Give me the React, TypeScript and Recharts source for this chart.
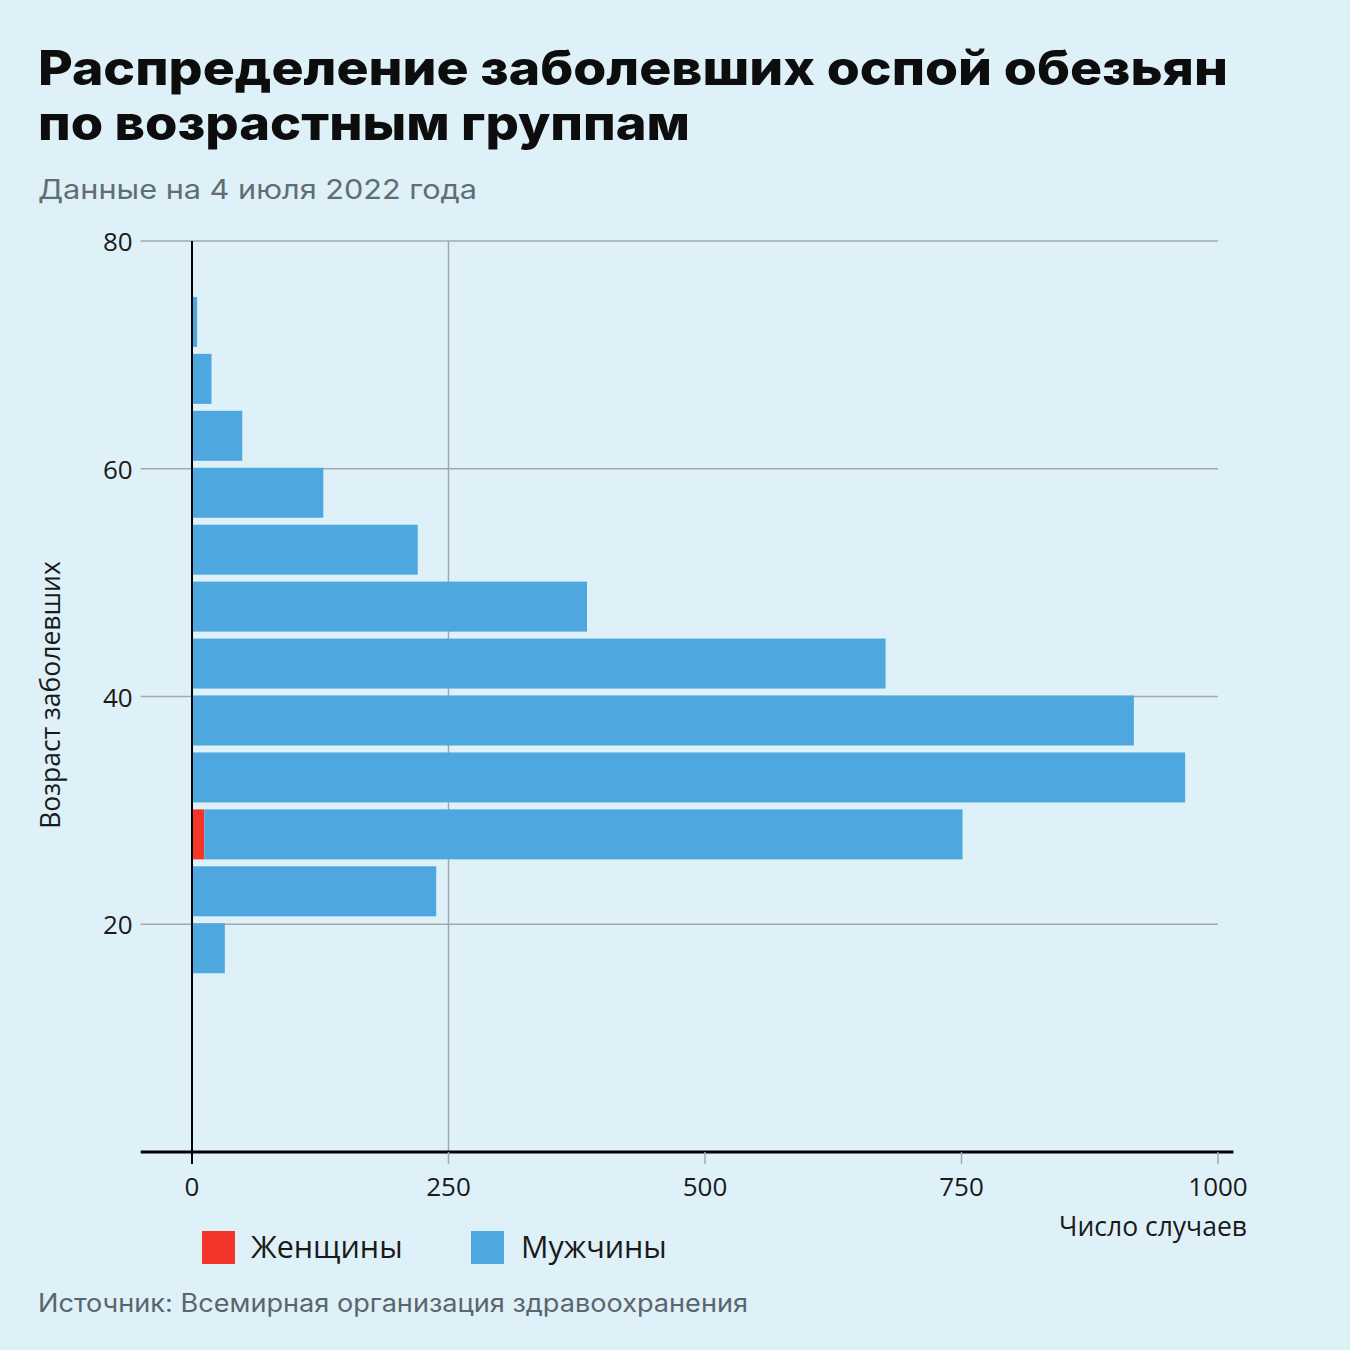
import React from 'react';
import { BarChart, ComposedChart, Bar, XAxis, YAxis, ReferenceLine } from 'recharts';

const ageBins = ['75–80', '70–75', '65–70', '60–65', '55–60', '50–55', '45–50', '40–45', '35–40', '30–35', '25–30', '20–25', '15–20', '10–15', '5–10', '0–5'];
const womenCases = [0, 0, 0, 0, 0, 0, 0, 0, 0, 0, 12, 0, 0, 0, 0, 0];
const menCases = [0, 5, 19, 49, 128, 220, 385, 676, 918, 968, 739, 238, 32, 0, 0, 0];
const xTicks = [0, 250, 500, 750, 1000];
const yTicks = [20, 40, 60, 80];
const verticalGrid = [250];

const seriesNames = { women: 'Женщины', men: 'Мужчины' };
const COLORS = { women: '#f4362a', men: '#4fa7df' };
const BG = '#dff1f8';
const GRID = '#a3a8ab';
const FONT = '"Open Sans", "Noto Sans", sans-serif';
const TITLE_FONT = 'Inter, "Noto Sans", sans-serif';

const X_DOMAIN: [number, number] = [-50, 1000];
const Y_DOMAIN: [number, number] = [0, 80];

const data = ageBins.map((bin, i) => ({ bin, women: womenCases[i], men: menCases[i] }));
const axisData = [
  { cases: X_DOMAIN[0], age: Y_DOMAIN[0] },
  { cases: X_DOMAIN[1], age: Y_DOMAIN[1] },
];

const BAR_SHIFT = 4;

const ShiftedBar = (props: any) => {
  const { x, y, width, height, fill } = props;
  if (!width || width <= 0) return null;
  return <rect x={x} y={y - BAR_SHIFT} width={width} height={height} fill={fill} />;
};

const XTick = (props: any) => {
  const { x, y, payload } = props;
  const v = payload.value;
  return (
    <g>
      <line x1={x} x2={x} y1={y} y2={y + 12} stroke={v === 0 ? '#000' : GRID} strokeWidth={v === 0 ? 2 : 1.5} />
      <text x={x} y={y + 44} textAnchor="middle" fontSize={26} fill="#1a1a1a" fontFamily={FONT}>{v}</text>
    </g>
  );
};

const YTick = (props: any) => {
  const { x, y, payload } = props;
  return (
    <text x={x} y={y} textAnchor="end" dominantBaseline="central" fontSize={26} fill="#1a1a1a" fontFamily={FONT}>{payload.value}</text>
  );
};

const MARGIN_TOP = 241;
const MARGIN_RIGHT = 132;
const PLOT_LEFT = 140.7;
const PLOT_BOTTOM_SPACE = 198;

export default function App() {
  return (
    <div style={{ position: 'absolute', left: 0, top: 0, width: 1350, height: 1350, background: BG, overflow: 'hidden' }}>
      {/* axes and grid layer */}
      <div style={{ position: 'absolute', left: 0, top: 0 }}>
        <ComposedChart
          width={1350}
          height={1350}
          data={axisData}
          margin={{ top: MARGIN_TOP, right: MARGIN_RIGHT, bottom: PLOT_BOTTOM_SPACE - 40, left: 0 }}
        >
          <XAxis type="number" dataKey="cases" domain={X_DOMAIN} ticks={xTicks} allowDataOverflow axisLine={false} tickLine={false} tickSize={0} tickMargin={0} height={40} tick={<XTick />} interval={0} />
          <YAxis type="number" dataKey="age" domain={Y_DOMAIN} ticks={yTicks} allowDataOverflow width={PLOT_LEFT} axisLine={false} tickLine={false} tickSize={0} tickMargin={8} tick={<YTick />} interval={0} />
          {yTicks.map((t) => (
            <ReferenceLine key={'h' + t} segment={[{ x: -50, y: t }, { x: 1000, y: t }]} stroke={GRID} strokeWidth={1.5} />
          ))}
          {verticalGrid.map((t) => (
            <ReferenceLine key={'v' + t} x={t} stroke={GRID} strokeWidth={1.5} />
          ))}
          <ReferenceLine segment={[{ x: -50, y: 0 }, { x: 1015, y: 0 }]} ifOverflow="visible" stroke="#000" strokeWidth={3} />
        </ComposedChart>
      </div>
      {/* bars layer */}
      <div style={{ position: 'absolute', left: 0, top: 0 }}>
        <BarChart
          width={1350}
          height={1350}
          data={data}
          layout="vertical"
          barSize={50}
          margin={{ top: MARGIN_TOP, right: MARGIN_RIGHT, bottom: PLOT_BOTTOM_SPACE, left: PLOT_LEFT }}
        >
          <XAxis type="number" domain={X_DOMAIN} allowDataOverflow hide />
          <YAxis type="category" dataKey="bin" hide />
          <Bar dataKey="women" name={seriesNames.women} stackId="a" fill={COLORS.women} isAnimationActive={false} shape={<ShiftedBar />} />
          <Bar dataKey="men" name={seriesNames.men} stackId="a" fill={COLORS.men} isAnimationActive={false} shape={<ShiftedBar />} />
          <ReferenceLine x={0} stroke="#000" strokeWidth={2} />
        </BarChart>
      </div>
      <svg width={1350} height={1350} style={{ position: 'absolute', left: 0, top: 0, pointerEvents: 'none' }}>
        <text x={38} y={85} fontSize={48} fontWeight={800} fill="#0d0d0d" fontFamily={TITLE_FONT} textLength={1190} lengthAdjust="spacingAndGlyphs">Распределение заболевших оспой обезьян</text>
        <text x={38} y={140} fontSize={48} fontWeight={800} fill="#0d0d0d" fontFamily={TITLE_FONT} textLength={652} lengthAdjust="spacingAndGlyphs">по возрастным группам</text>
        <text x={38} y={199} fontSize={27} fill="#606d74" fontFamily={TITLE_FONT} textLength={439} lengthAdjust="spacingAndGlyphs">Данные на 4 июля 2022 года</text>
        <text transform="translate(50,695) rotate(-90)" textAnchor="middle" dominantBaseline="central" fontSize={26.5} fill="#1a1a1a" fontFamily={FONT}>Возраст заболевших</text>
        <text x={1247} y={1236} textAnchor="end" fontSize={26.5} fill="#1a1a1a" fontFamily={FONT}>Число случаев</text>
        <rect x={202} y={1231} width={33} height={33} fill={COLORS.women} />
        <text x={251} y={1258} fontSize={30.5} fill="#1a1a1a" fontFamily={FONT}>{seriesNames.women}</text>
        <rect x={471} y={1231} width={33} height={33} fill={COLORS.men} />
        <text x={521} y={1258} fontSize={30.5} fill="#1a1a1a" fontFamily={FONT}>{seriesNames.men}</text>
        <text x={38} y={1312} fontSize={25} fill="#5a656c" fontFamily={TITLE_FONT} textLength={710} lengthAdjust="spacingAndGlyphs">Источник: Всемирная организация здравоохранения</text>
      </svg>
    </div>
  );
}
